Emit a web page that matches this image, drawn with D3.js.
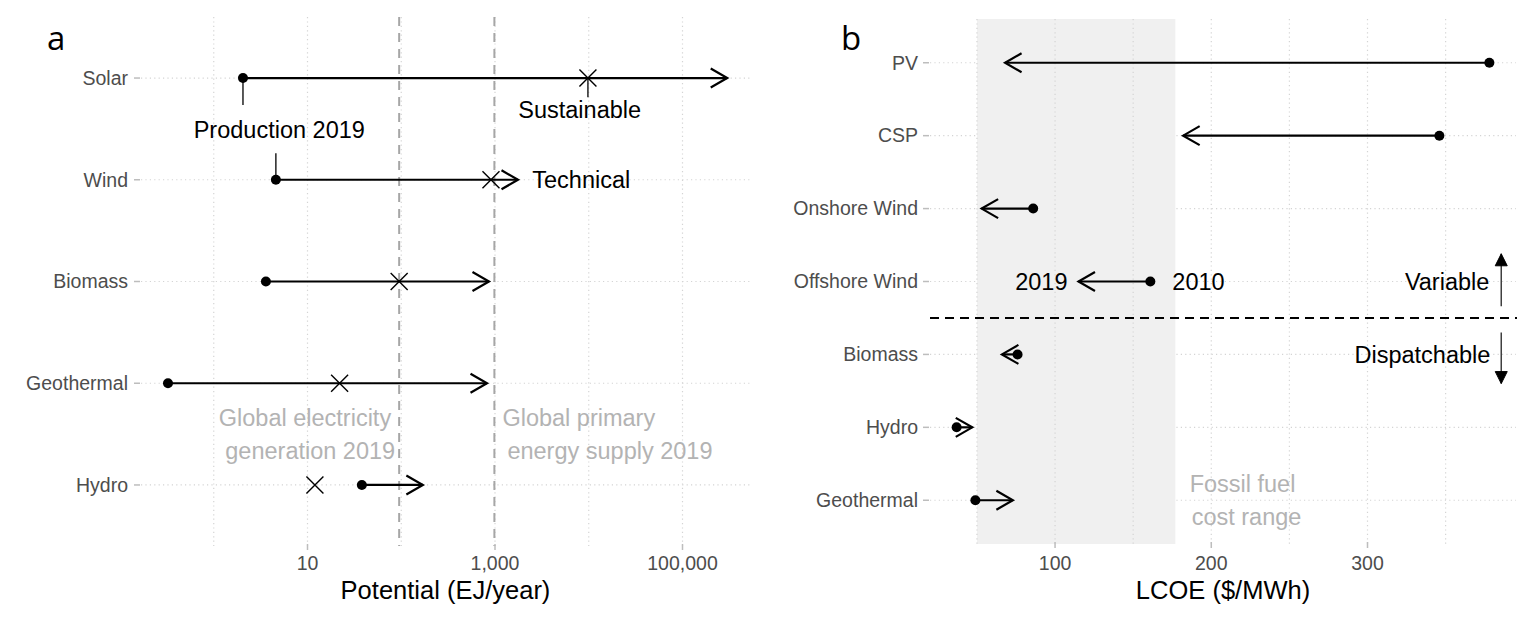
<!DOCTYPE html>
<html>
<head>
<meta charset="utf-8">
<script src="https://cdn.jsdelivr.net/npm/d3@7/dist/d3.min.js"></script>
<style>
  html, body { margin: 0; padding: 0; background: #fff; }
  svg { display: block; font-family: "Liberation Sans", Arial, sans-serif; }
</style>
</head>
<body>
<svg id="chart" width="1529" height="617"></svg>
<script>
// ---------------- Panel a data ----------------
const potentialCategories = ["Solar", "Wind", "Biomass", "Geothermal", "Hydro"];
const production2019 = [2.05, 4.6, 3.6, 0.325, 38];
const sustainablePotential = [9800, 906, 95, 22, 12];
const technicalPotential = [300000, 1760, 863, 822, 170];
const potentialTicks = [10, 1000, 100000];
const potentialMinorTicks = [1, 100, 10000];
const referenceValues = [95, 985];
const referenceLabels = [["Global electricity", "generation 2019"], ["Global primary", "energy supply 2019"]];

// ---------------- Panel b data ----------------
const lcoeCategories = ["PV", "CSP", "Onshore Wind", "Offshore Wind", "Biomass", "Hydro", "Geothermal"];
const lcoe2010 = [378, 346, 86, 161, 76, 37, 49];
const lcoe2019 = [68, 182, 53, 115, 66, 47, 73];
const fossilRange = [50, 177];
const lcoeTicks = [100, 200, 300];
const lcoeMinorTicks = [50, 150, 250, 350];

// ---------------- setup ----------------
const svg = d3.select("#chart");
const AXIS_COL = "#4d4d4d";
const GRID_COL = "#d4d4d4";
const LABEL_COL = "#b3b3b3";

const defs = svg.append("defs");
defs.append("marker")
  .attr("id", "openArrow")
  .attr("viewBox", "-20 -12 24 24")
  .attr("refX", 0).attr("refY", 0)
  .attr("markerWidth", 24).attr("markerHeight", 24)
  .attr("markerUnits", "userSpaceOnUse")
  .attr("orient", "auto")
  .append("path")
  .attr("d", "M-16.5,-9.5 L0,0 L-16.5,9.5")
  .attr("fill", "none").attr("stroke", "#000").attr("stroke-width", 2.2)
  .attr("stroke-linejoin", "miter");
defs.append("marker")
  .attr("id", "closedArrow")
  .attr("viewBox", "-14 -8 16 16")
  .attr("refX", 0).attr("refY", 0)
  .attr("markerWidth", 16).attr("markerHeight", 16)
  .attr("markerUnits", "userSpaceOnUse")
  .attr("orient", "auto")
  .append("path")
  .attr("d", "M-12,-6 L0,0 L-12,6 Z")
  .attr("fill", "#000").attr("stroke", "#000").attr("stroke-width", 1);

// ================= PANEL A =================
const A = { left: 141, right: 750, top: 17, bottom: 546 };
const xa = d3.scaleLog().domain([Math.pow(10, -0.776), Math.pow(10, 5.72)]).range([A.left, A.right]);
const ya = d3.scalePoint().domain(potentialCategories).range([A.top, A.bottom]).padding(0.6);
const ga = svg.append("g");

// grid
ga.selectAll(".vgrid").data(potentialTicks.concat(potentialMinorTicks)).enter().append("line")
  .attr("x1", d => xa(d)).attr("x2", d => xa(d))
  .attr("y1", A.top).attr("y2", A.bottom)
  .attr("stroke", GRID_COL).attr("stroke-width", 1.2).attr("stroke-dasharray", "1.2,3.2");
ga.selectAll(".hgrid").data(potentialCategories).enter().append("line")
  .attr("x1", A.left).attr("x2", A.right)
  .attr("y1", d => ya(d)).attr("y2", d => ya(d))
  .attr("stroke", GRID_COL).attr("stroke-width", 1.2).attr("stroke-dasharray", "1.2,3.2");

// reference dashed lines
ga.selectAll(".ref").data(referenceValues).enter().append("line")
  .attr("x1", d => xa(d)).attr("x2", d => xa(d))
  .attr("y1", A.top).attr("y2", A.bottom)
  .attr("stroke", "#a6a6a6").attr("stroke-width", 2).attr("stroke-dasharray", "9,7");

// reference labels
const refText = ga.append("g").attr("fill", LABEL_COL).attr("font-size", 23.5);
referenceLabels[0].forEach((t, i) => {
  refText.append("text").attr("x", xa(referenceValues[0]) - 8 + i * 4)
    .attr("y", ya("Geothermal") + ya.step() * (0.34 + i * 0.325))
    .attr("dy", "0.35em").attr("text-anchor", "end").text(t);
});
referenceLabels[1].forEach((t, i) => {
  refText.append("text").attr("x", xa(referenceValues[1]) + 8 + i * 5)
    .attr("y", ya("Geothermal") + ya.step() * (0.34 + i * 0.325))
    .attr("dy", "0.35em").attr("text-anchor", "start").text(t);
});

// annotation leader segments
const stepA = ya.step();
ga.append("line")
  .attr("x1", xa(production2019[0])).attr("x2", xa(production2019[0]))
  .attr("y1", ya("Solar")).attr("y2", ya("Solar") + stepA * 0.265)
  .attr("stroke", "#000").attr("stroke-width", 1.3);
ga.append("line")
  .attr("x1", xa(production2019[1])).attr("x2", xa(production2019[1]))
  .attr("y1", ya("Wind")).attr("y2", ya("Wind") - stepA * 0.26)
  .attr("stroke", "#000").attr("stroke-width", 1.3);
ga.append("line")
  .attr("x1", xa(sustainablePotential[0])).attr("x2", xa(sustainablePotential[0]))
  .attr("y1", ya("Solar")).attr("y2", ya("Solar") + stepA * 0.19)
  .attr("stroke", "#000").attr("stroke-width", 1.3);

// arrows production -> technical
ga.selectAll(".arr").data(potentialCategories).enter().append("line")
  .attr("x1", (d, i) => xa(production2019[i])).attr("x2", (d, i) => xa(technicalPotential[i]))
  .attr("y1", d => ya(d)).attr("y2", d => ya(d))
  .attr("stroke", "#000").attr("stroke-width", 2.2)
  .attr("marker-end", "url(#openArrow)");

// production dots
ga.selectAll(".dot").data(potentialCategories).enter().append("circle")
  .attr("cx", (d, i) => xa(production2019[i])).attr("cy", d => ya(d)).attr("r", 5)
  .attr("fill", "#000");

// sustainable crosses
const cr = 8.5;
potentialCategories.forEach((c, i) => {
  const x = xa(sustainablePotential[i]), y = ya(c);
  ga.append("path")
    .attr("d", `M${x - cr},${y - cr}L${x + cr},${y + cr}M${x - cr},${y + cr}L${x + cr},${y - cr}`)
    .attr("stroke", "#000").attr("stroke-width", 1.4).attr("fill", "none");
});

// annotation texts
ga.append("text").attr("x", xa(5)).attr("y", ya("Solar") + stepA * 0.51).attr("dy", "0.35em")
  .attr("text-anchor", "middle").attr("font-size", 23.5).attr("fill", "#000").text("Production 2019");
ga.append("text").attr("x", xa(8000)).attr("y", ya("Solar") + stepA * 0.31).attr("dy", "0.35em")
  .attr("text-anchor", "middle").attr("font-size", 23.5).attr("fill", "#000").text("Sustainable");
ga.append("text").attr("x", xa(2500)).attr("y", ya("Wind")).attr("dy", "0.35em")
  .attr("text-anchor", "start").attr("font-size", 23.5).attr("fill", "#000").text("Technical");

// y axis
ga.selectAll(".ylab").data(potentialCategories).enter().append("text")
  .attr("x", A.left - 13).attr("y", d => ya(d)).attr("dy", "0.35em")
  .attr("text-anchor", "end").attr("font-size", 19.5).attr("fill", AXIS_COL).text(d => d);
ga.selectAll(".ytick").data(potentialCategories).enter().append("line")
  .attr("x1", A.left - 7).attr("x2", A.left - 1)
  .attr("y1", d => ya(d)).attr("y2", d => ya(d))
  .attr("stroke", "#bdbdbd").attr("stroke-width", 1.5);

// x axis
const fmtComma = d3.format(",");
ga.selectAll(".xtick").data(potentialTicks).enter().append("line")
  .attr("x1", d => xa(d)).attr("x2", d => xa(d))
  .attr("y1", A.bottom - 2).attr("y2", A.bottom + 4)
  .attr("stroke", "#bdbdbd").attr("stroke-width", 1.5);
ga.selectAll(".xlab").data(potentialTicks).enter().append("text")
  .attr("x", d => xa(d)).attr("y", A.bottom + 17).attr("dy", "0.35em")
  .attr("text-anchor", "middle").attr("font-size", 19.5).attr("fill", AXIS_COL).text(d => fmtComma(d));
ga.append("text").attr("x", (A.left + A.right) / 2).attr("y", 590).attr("dy", "0.35em")
  .attr("text-anchor", "middle").attr("font-size", 25.5).attr("fill", "#000").text("Potential (EJ/year)");

// panel tag
svg.append("text").attr("x", 47).attr("y", 50).attr("font-family", "'Open Sans', sans-serif")
  .attr("font-size", 33).attr("fill", "#000").text("a");

// ================= PANEL B =================
const B = { left: 930, right: 1516, top: 19, bottom: 544 };
const lcoeAll = lcoe2010.concat(lcoe2019, fossilRange);
const bMin = d3.min(lcoeAll), bMax = d3.max(lcoeAll), bPad = (bMax - bMin) * 0.05;
const xb = d3.scaleLinear().domain([bMin - bPad, bMax + bPad]).range([B.left, B.right]);
const yb = d3.scalePoint().domain(lcoeCategories).range([B.top, B.bottom]).padding(0.6);
const gb = svg.append("g");
const stepB = yb.step();

// horizontal grid
gb.selectAll(".hgrid").data(lcoeCategories).enter().append("line")
  .attr("x1", B.left).attr("x2", B.right)
  .attr("y1", d => yb(d)).attr("y2", d => yb(d))
  .attr("stroke", GRID_COL).attr("stroke-width", 1.2).attr("stroke-dasharray", "1.2,3.2");

// fossil fuel range
gb.append("rect")
  .attr("x", xb(fossilRange[0])).attr("width", xb(fossilRange[1]) - xb(fossilRange[0]))
  .attr("y", B.top).attr("height", B.bottom - B.top)
  .attr("fill", "#f0f0f0");

// vertical grid
gb.selectAll(".vgrid").data(lcoeTicks.concat(lcoeMinorTicks)).enter().append("line")
  .attr("x1", d => xb(d)).attr("x2", d => xb(d))
  .attr("y1", B.top).attr("y2", B.bottom)
  .attr("stroke", GRID_COL).attr("stroke-width", 1.2).attr("stroke-dasharray", "1.2,3.2");

// fossil label
["Fossil fuel", "cost range"].forEach((t, i) => {
  gb.append("text").attr("x", xb(220) + i * 4)
    .attr("y", yb("Geothermal") + stepB * (-0.23 + i * 0.46)).attr("dy", "0.35em")
    .attr("text-anchor", "middle").attr("font-size", 23.5).attr("fill", LABEL_COL).text(t);
});

// separator dashed line
const sepY = (yb("Offshore Wind") + yb("Biomass")) / 2;
gb.append("line").attr("x1", B.left).attr("x2", B.right + 1)
  .attr("y1", sepY).attr("y2", sepY)
  .attr("stroke", "#000").attr("stroke-width", 2).attr("stroke-dasharray", "9,6");

// arrows 2010 -> 2019
gb.selectAll(".arr").data(lcoeCategories).enter().append("line")
  .attr("x1", (d, i) => xb(lcoe2010[i])).attr("x2", (d, i) => xb(lcoe2019[i]))
  .attr("y1", d => yb(d)).attr("y2", d => yb(d))
  .attr("stroke", "#000").attr("stroke-width", 2.2)
  .attr("marker-end", "url(#openArrow)");
gb.selectAll(".dot").data(lcoeCategories).enter().append("circle")
  .attr("cx", (d, i) => xb(lcoe2010[i])).attr("cy", d => yb(d)).attr("r", 5)
  .attr("fill", "#000");

// year labels on offshore wind
const oi = lcoeCategories.indexOf("Offshore Wind");
gb.append("text").attr("x", xb(lcoe2019[oi]) - 11).attr("y", yb("Offshore Wind")).attr("dy", "0.35em")
  .attr("text-anchor", "end").attr("font-size", 23.5).attr("fill", "#000").text("2019");
gb.append("text").attr("x", xb(lcoe2010[oi]) + 22).attr("y", yb("Offshore Wind")).attr("dy", "0.35em")
  .attr("text-anchor", "start").attr("font-size", 23.5).attr("fill", "#000").text("2010");

// Variable / Dispatchable
const arrowX = xb(385.6);
gb.append("line").attr("x1", arrowX).attr("x2", arrowX)
  .attr("y1", sepY - stepB * 0.16).attr("y2", sepY - stepB * 0.88)
  .attr("stroke", "#333").attr("stroke-width", 1.4).attr("marker-end", "url(#closedArrow)");
gb.append("line").attr("x1", arrowX).attr("x2", arrowX)
  .attr("y1", sepY + stepB * 0.2).attr("y2", sepY + stepB * 0.9)
  .attr("stroke", "#333").attr("stroke-width", 1.4).attr("marker-end", "url(#closedArrow)");
gb.append("text").attr("x", xb(lcoe2010[0]) + 0).attr("y", yb("Offshore Wind")).attr("dy", "0.35em")
  .attr("text-anchor", "end").attr("font-size", 23.5).attr("fill", "#000").text("Variable");
gb.append("text").attr("x", xb(lcoe2010[0]) + 1).attr("y", yb("Biomass")).attr("dy", "0.35em")
  .attr("text-anchor", "end").attr("font-size", 23.5).attr("fill", "#000").text("Dispatchable");

// y axis
gb.selectAll(".ylab").data(lcoeCategories).enter().append("text")
  .attr("x", B.left - 12).attr("y", d => yb(d)).attr("dy", "0.35em")
  .attr("text-anchor", "end").attr("font-size", 19.5).attr("fill", AXIS_COL).text(d => d);
gb.selectAll(".ytick").data(lcoeCategories).enter().append("line")
  .attr("x1", B.left - 7).attr("x2", B.left - 1)
  .attr("y1", d => yb(d)).attr("y2", d => yb(d))
  .attr("stroke", "#bdbdbd").attr("stroke-width", 1.5);

// x axis
gb.selectAll(".xtick").data(lcoeTicks).enter().append("line")
  .attr("x1", d => xb(d)).attr("x2", d => xb(d))
  .attr("y1", B.bottom - 2).attr("y2", B.bottom + 4)
  .attr("stroke", "#bdbdbd").attr("stroke-width", 1.5);
gb.selectAll(".xlab").data(lcoeTicks).enter().append("text")
  .attr("x", d => xb(d)).attr("y", A.bottom + 17).attr("dy", "0.35em")
  .attr("text-anchor", "middle").attr("font-size", 19.5).attr("fill", AXIS_COL).text(d => d);
gb.append("text").attr("x", (B.left + B.right) / 2).attr("y", 590).attr("dy", "0.35em")
  .attr("text-anchor", "middle").attr("font-size", 25.5).attr("fill", "#000").text("LCOE ($/MWh)");

svg.append("text").attr("x", 841).attr("y", 50).attr("font-family", "'Open Sans', sans-serif")
  .attr("font-size", 33).attr("fill", "#000").text("b");
</script>
</body>
</html>
